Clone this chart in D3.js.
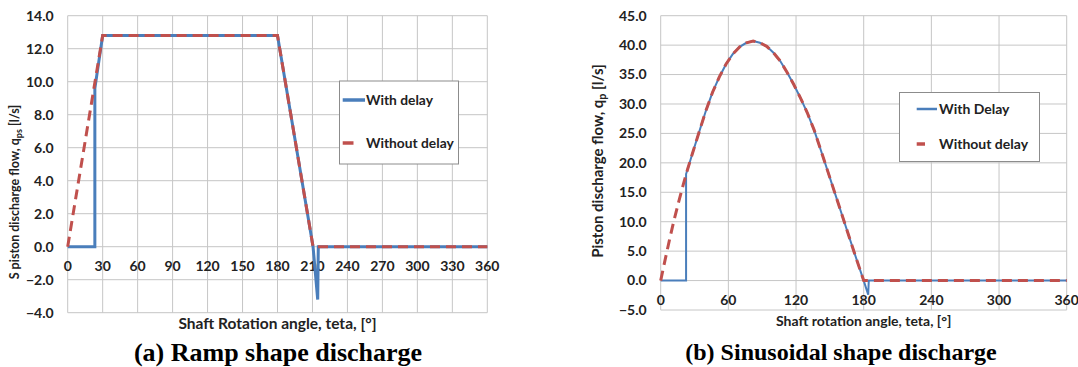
<!DOCTYPE html>
<html><head><meta charset="utf-8">
<script src="https://cdn.jsdelivr.net/npm/d3@7"></script>
<style>body{margin:0;background:#fff}svg{display:block}</style>
</head><body>
<script>
// ---------- data ----------
const rampWithDelay = [[0,0],[23.3,0],[23.3,9.6],[30,12.8],[180,12.8],[210.5,0],[214.5,-3.2],[215,0],[360,0]];
const rampWithoutDelay = [[0,0],[30,12.8],[180,12.8],[210.5,0],[360,0]];
const sinWithoutDelay = [[0,0],[4,3.6],[8,7.1],[12,10.4],[16,13.4],[20,16.3],[24,19.0],[28,21.5],[34,25.2],[40,28.8],[46,32.0],[52,34.6],[58,36.8],[64,38.5],[70,39.7],[76,40.4],[82,40.7],[88,40.4],[94,39.8],[100,38.7],[106,37.3],[112,35.4],[118,33.3],[124,31.0],[130,28.5],[136,25.6],[144,21.0],[152,16.3],[160,11.6],[168,6.9],[174,3.4],[180,0],[360,0]];
const sinWithDelay = [[0,0],[22.5,0],[22.5,18.1],[24,19.0],[28,21.5],[34,25.2],[40,28.8],[46,32.0],[52,34.6],[58,36.8],[64,38.5],[70,39.7],[76,40.4],[82,40.7],[88,40.4],[94,39.8],[100,38.7],[106,37.3],[112,35.4],[118,33.3],[124,31.0],[130,28.5],[136,25.6],[144,21.0],[152,16.3],[160,11.6],[168,6.9],[174,3.4],[180,0],[184,-2.4],[184.5,0],[360,0]];
const rampXTicks = [0,30,60,90,120,150,180,210,240,270,300,330,360];
const rampYTicks = [-4,-2,0,2,4,6,8,10,12,14];
const sinXTicks = [0,60,120,180,240,300,360];
const sinYTicks = [-5,0,5,10,15,20,25,30,35,40,45];
const legendRamp = ["With delay","Without delay"];
const legendSin = ["With Delay","Without delay"];

const BLUE = "#4a7ebb", RED = "#c0504d", GRID = "#c6c6c6";
const FONT = "Lato, 'Open Sans', sans-serif";

const svg = d3.select("body").append("svg").attr("width",1078).attr("height",367);

function chart(o){
  const x = d3.scaleLinear().domain([0,360]).range(o.xr);
  const y = d3.scaleLinear().domain(o.yd).range(o.yr);
  const g = svg.append("g");
  // grid
  g.append("g").selectAll("line").data(o.yt).join("line")
    .attr("x1",o.xr[0]).attr("x2",o.xr[1]).attr("y1",d=>y(d)).attr("y2",d=>y(d))
    .attr("stroke",GRID).attr("stroke-width",1);
  g.append("g").selectAll("line").data(o.xt).join("line")
    .attr("y1",o.yr[0]).attr("y2",o.yr[1]).attr("x1",d=>x(d)).attr("x2",d=>x(d))
    .attr("stroke",GRID).attr("stroke-width",1);
  // y tick labels
  g.append("g").selectAll("text").data(o.yt).join("text")
    .attr("x",o.xr[0]-14).attr("y",d=>y(d)).attr("dy","0.35em")
    .attr("text-anchor","end").attr("font-family",FONT).attr("font-weight","bold")
    .attr("font-size",14).attr("fill","#222").text(d=>d3.format(".1f")(d));
  // x tick labels under zero line
  g.append("g").selectAll("text").data(o.xt).join("text")
    .attr("x",d=>x(d)).attr("y",y(0)+19.5).attr("dy","0.35em")
    .attr("text-anchor","middle").attr("font-family",FONT).attr("font-weight","bold")
    .attr("font-size",14).attr("fill","#222").text(d=>d);
  // lines
  const line = d3.line().x(d=>x(d[0])).y(d=>y(d[1]));
  g.append("path").datum(o.blue).attr("d",line).attr("fill","none")
    .attr("stroke",BLUE).attr("stroke-width",o.bw).attr("stroke-linejoin","miter");
  g.append("path").datum(o.red).attr("d",line).attr("fill","none")
    .attr("stroke",RED).attr("stroke-width",3).attr("stroke-dasharray",o.dash);
  // axis titles
  g.append("text").attr("x",(o.xr[0]+o.xr[1])/2+o.xtOff).attr("y",o.xtY).attr("dy","0.35em")
    .attr("text-anchor","middle").attr("font-family",FONT).attr("font-weight","bold")
    .attr("font-size",o.xtFs).attr("fill","#222").text(o.xTitle);
  const yt = g.append("text").attr("transform",`translate(${o.ytX},${o.ytY}) rotate(-90)`)
    .attr("dy","0.35em").attr("text-anchor","middle").attr("font-family",FONT)
    .attr("font-weight","bold").attr("font-size",o.ytFs).attr("fill","#222");
  yt.append("tspan").text(o.yTitle[0]);
  yt.append("tspan").attr("font-size",o.ytFs*0.72).attr("dy","3").text(o.yTitle[1]);
  yt.append("tspan").attr("dy","-3").text(o.yTitle[2]);
  // legend
  const L = o.leg;
  g.append("rect").attr("x",L.x).attr("y",L.y).attr("width",L.w).attr("height",L.h)
    .attr("fill","#fff").attr("stroke","#8c8c8c").attr("stroke-width",1);
  g.append("line").attr("x1",L.sx).attr("x2",L.sx2).attr("y1",L.y1).attr("y2",L.y1)
    .attr("stroke",BLUE).attr("stroke-width",o.bw+0.5);
  g.append("line").attr("x1",L.sx).attr("x2",L.rx2).attr("y1",L.y2).attr("y2",L.y2)
    .attr("stroke",RED).attr("stroke-width",3.5);
  g.append("text").attr("x",L.tx).attr("y",L.y1).attr("dy","0.35em")
    .attr("font-family",FONT).attr("font-weight","bold").attr("font-size",L.fs).attr("fill","#222").text(o.legText[0]);
  g.append("text").attr("x",L.tx).attr("y",L.y2).attr("dy","0.35em")
    .attr("font-family",FONT).attr("font-weight","bold").attr("font-size",L.fs).attr("fill","#222").text(o.legText[1]);
  // caption
  g.append("text").attr("x",o.capX).attr("y",352).attr("dy","0.35em").attr("text-anchor","middle")
    .attr("font-family","'Liberation Serif', 'Times New Roman', serif").attr("font-weight","bold")
    .attr("font-size",o.capFs).attr("fill","#000").text(o.caption);
}

chart({xr:[67.7,487.3], yd:[-4,14], yr:[312.7,15.7], xt:rampXTicks, yt:rampYTicks,
  blue:rampWithDelay, red:rampWithoutDelay, bw:3, dash:"10,6",
  xTitle:"Shaft Rotation angle, teta, [°]", xtOff:0, xtY:324, xtFs:15.5,
  yTitle:["S piston discharge flow, q","ps"," [l/s]"], ytX:15, ytY:192, ytFs:12.5,
  leg:{x:339.5,y:81,w:119,h:83,sx:342.7,sx2:365,rx2:353.5,y1:100,y2:143,tx:366,fs:13.8},
  legText:legendRamp, caption:"(a) Ramp shape discharge", capX:278, capFs:26});

chart({xr:[660.7,1066.7], yd:[-5,45], yr:[310,15.7], xt:sinXTicks, yt:sinYTicks,
  blue:sinWithDelay, red:sinWithoutDelay, bw:2, dash:"10,6",
  xTitle:"Shaft rotation angle, teta, [°]", xtOff:0, xtY:321.5, xtFs:14,
  yTitle:["Piston discharge flow, q","p"," [l/s]"], ytX:598, ytY:161, ytFs:15,
  leg:{x:899.5,y:92.5,w:140,h:69,sx:916.7,sx2:937,rx2:925,y1:109,y2:144,tx:939,fs:14},
  legText:legendSin, caption:"(b) Sinusoidal shape discharge", capX:841, capFs:24});
</script>
</body></html>
